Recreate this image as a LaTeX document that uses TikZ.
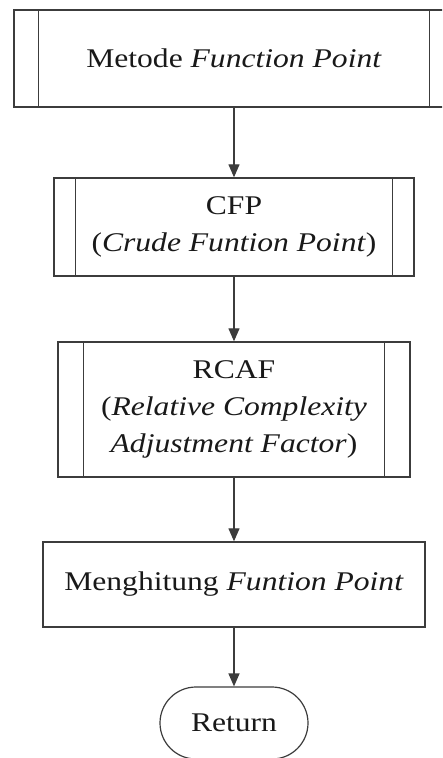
\documentclass[tikz,border=0pt]{standalone}
\usepackage{fontspec}
\setmainfont{Liberation Serif}[FakeStretch=1.17]
\usetikzlibrary{arrows.meta,calc}
\definecolor{edge}{HTML}{3C3C3C}
\begin{document}
\begin{tikzpicture}[x=1pt,y=-1pt,
  box/.style={draw=edge,line width=1.4pt,rectangle,inner sep=0pt,align=center,
    font=\fontsize{27}{37}\selectfont,text=black!90},
  term/.style={draw=edge,line width=1.2pt,rounded corners=36pt,inner sep=0pt,
    font=\fontsize{27}{30}\selectfont,text=black!90},
  flow/.style={draw=edge,line width=1.3pt,-{Triangle[length=13pt,width=11pt]}},
  bar/.style={draw=edge,line width=1.4pt}]
\useasboundingbox (0,0) rectangle (442,758);
\clip (0,0) rectangle (442,758);
\fill[white] (0,0) rectangle (442,758);

% predefined process: Metode Function Point
\node[box,minimum width=440pt,minimum height=97pt] (b1) at (234,58.5)
  {Metode \textit{Function Point}};
\draw[bar] ($(b1.north west)+(25,0)$) -- ($(b1.south west)+(25,0)$);
\draw[bar] ($(b1.north east)+(-25,0)$) -- ($(b1.south east)+(-25,0)$);

% predefined process: CFP
\node[box,minimum width=360pt,minimum height=98pt] (b2) at (234,227)
  {CFP\\(\textit{Crude Funtion Point})};
\draw[bar] ($(b2.north west)+(22,0)$) -- ($(b2.south west)+(22,0)$);
\draw[bar] ($(b2.north east)+(-22,0)$) -- ($(b2.south east)+(-22,0)$);

% predefined process: RCAF
\node[box,minimum width=352pt,minimum height=135pt] (b3) at (234,409.5)
  {RCAF\\(\textit{Relative Complexity}\\\textit{Adjustment Factor})};
\draw[bar] ($(b3.north west)+(26,0)$) -- ($(b3.south west)+(26,0)$);
\draw[bar] ($(b3.north east)+(-26,0)$) -- ($(b3.south east)+(-26,0)$);

% process step
\node[box,minimum width=382pt,minimum height=85pt] (b4) at (234,584.5)
  {Menghitung \textit{Funtion Point}};

% terminator
\node[term,minimum width=148pt,minimum height=72pt] (ret) at (234,723) {Return};

\draw[flow] (b1) -- (b2);
\draw[flow] (b2) -- (b3);
\draw[flow] (b3) -- (b4);
\draw[flow] (b4) -- (ret);
\end{tikzpicture}
\end{document}
